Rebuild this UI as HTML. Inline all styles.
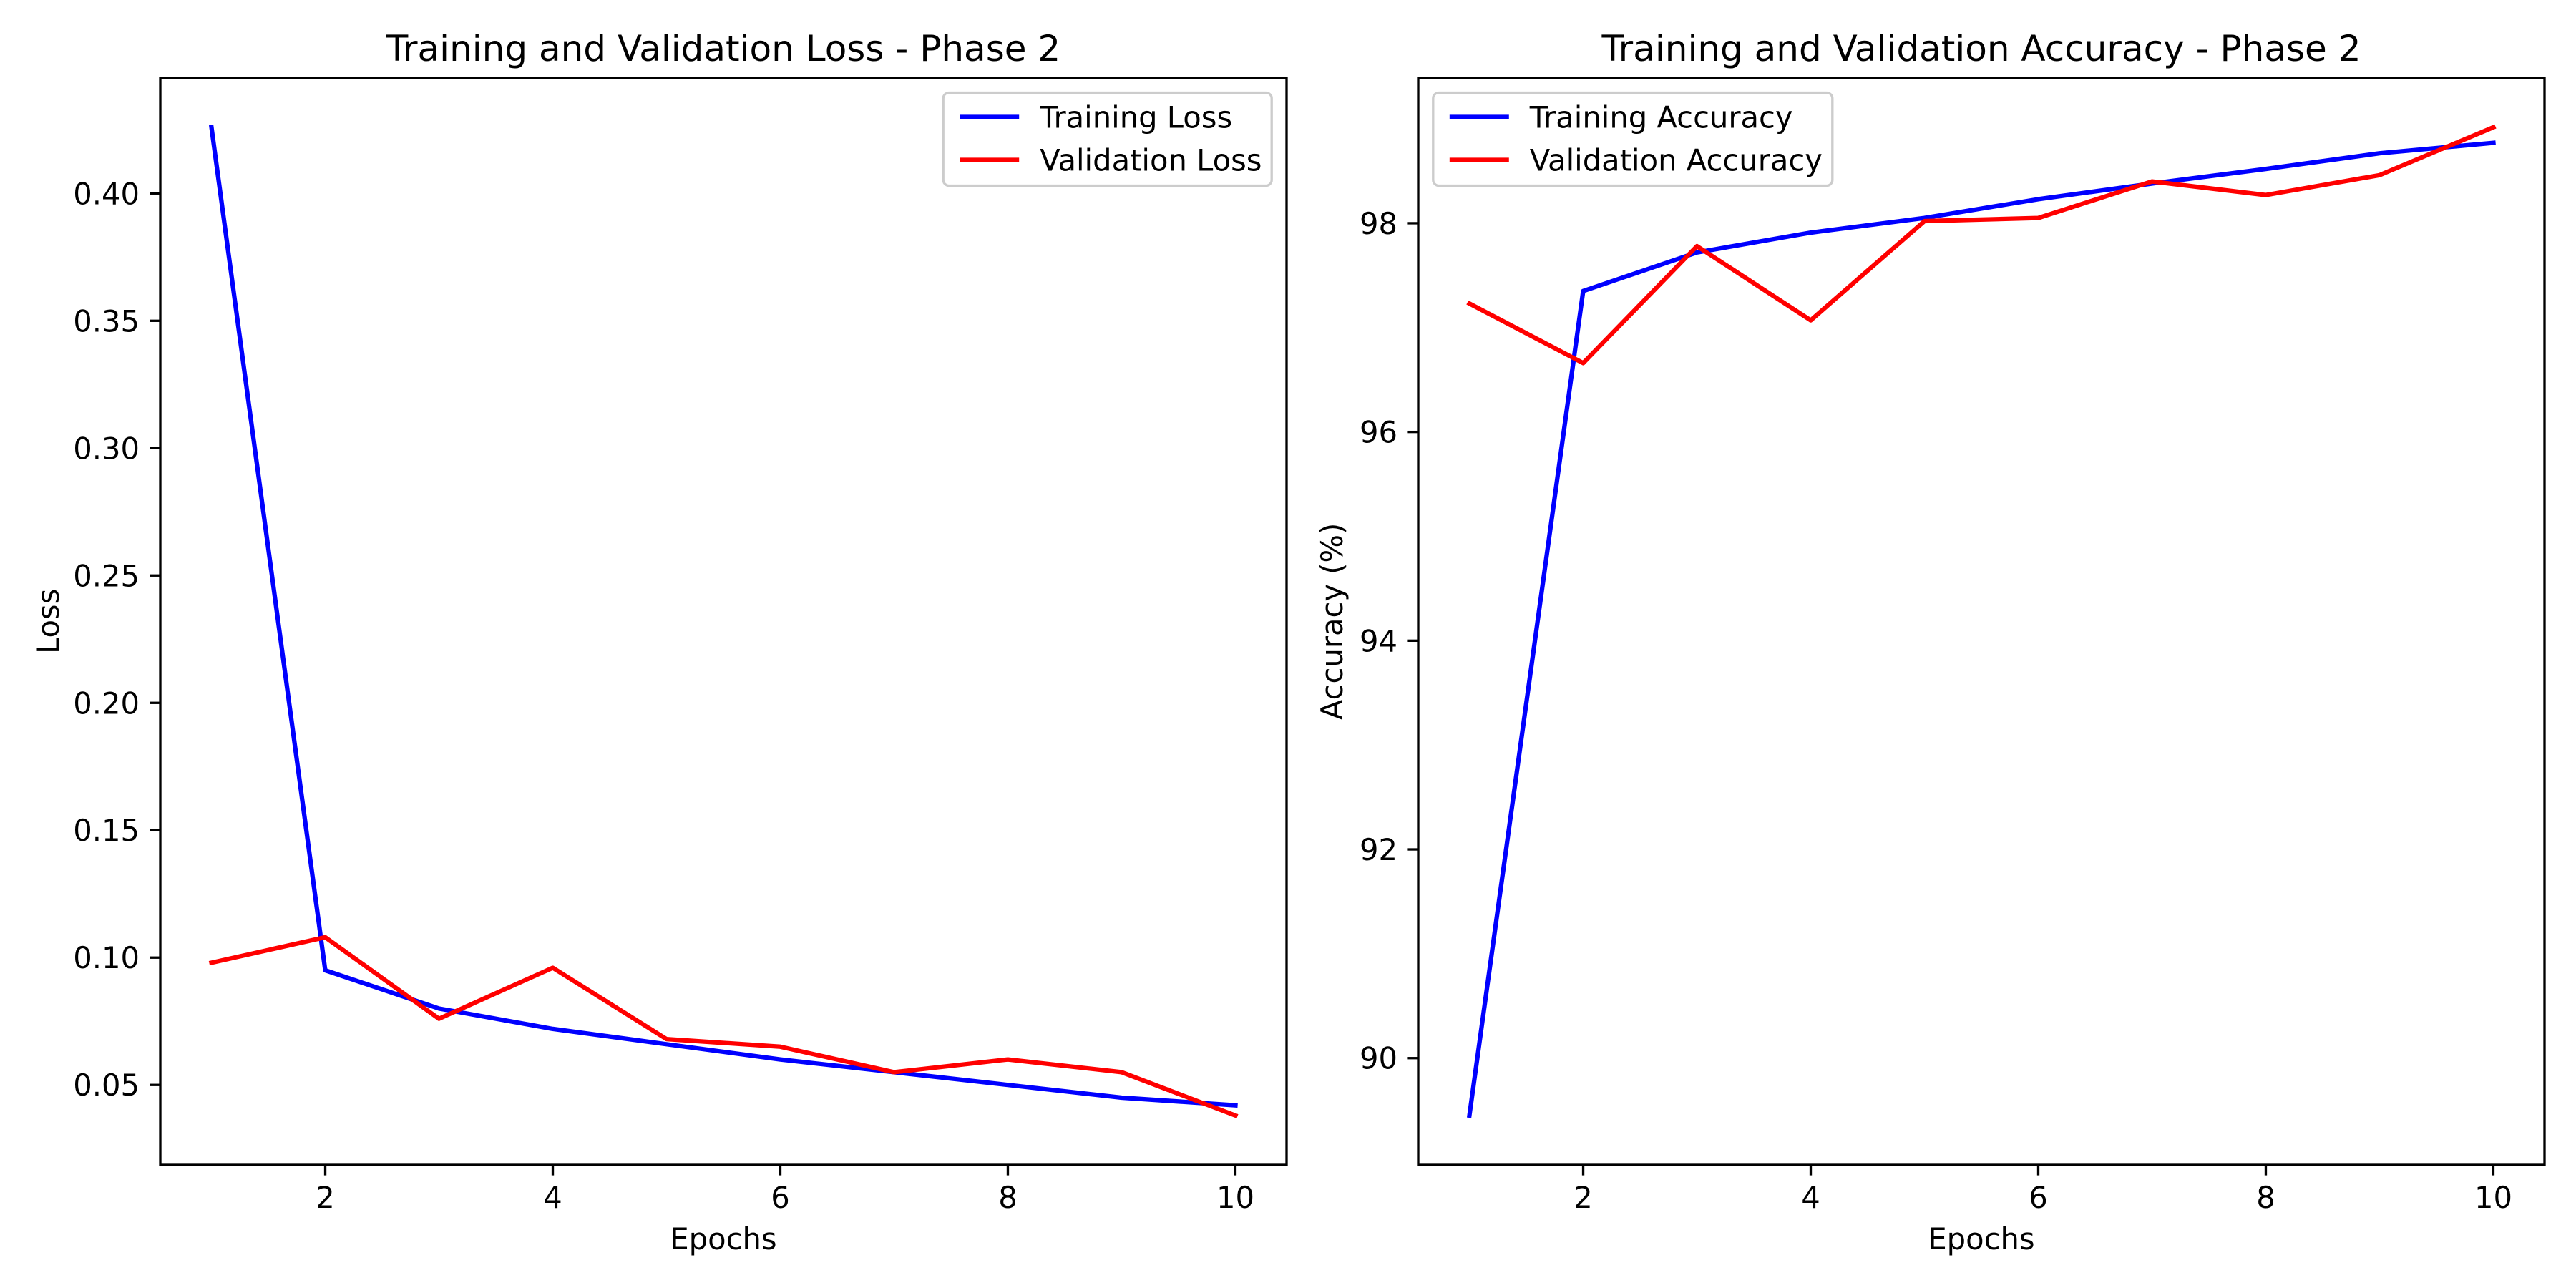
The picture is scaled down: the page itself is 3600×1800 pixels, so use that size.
<!DOCTYPE html>
<html><head><meta charset="utf-8"><style>
html,body{margin:0;padding:0;background:#fff;}
svg{display:block;font-family:"DejaVu Sans","Liberation Sans",sans-serif;}
</style></head><body>
<svg id="fig" width="3600" height="1800" viewBox="0 0 3600 1800" xmlns="http://www.w3.org/2000/svg"></svg>
<script>
const epochs = [1,2,3,4,5,6,7,8,9,10];
const trainLoss = [0.426,0.095,0.080,0.072,0.066,0.060,0.055,0.050,0.045,0.042];
const valLoss = [0.098,0.108,0.076,0.096,0.068,0.065,0.055,0.060,0.055,0.038];
const trainAcc = [89.45,97.35,97.72,97.91,98.05,98.23,98.38,98.52,98.67,98.77];
const valAcc = [97.23,96.66,97.78,97.07,98.02,98.05,98.40,98.27,98.46,98.92];
const xTicks = [2,4,6,8,10];
const lossTicks = [0.05,0.10,0.15,0.20,0.25,0.30,0.35,0.40];
const accTicks = [90,92,94,96,98];

const NS = "http://www.w3.org/2000/svg";
const svg = document.getElementById('fig');
function mk(tag, attrs, parent, text){
  const e = document.createElementNS(NS, tag);
  for (const k in attrs) e.setAttribute(k, attrs[k]);
  if (text !== undefined) e.textContent = text;
  (parent||svg).appendChild(e);
  return e;
}
const FS = 41.67;
function panel(opts){
  const {left, right, top, bottom, series, yTicks, yFmt, title, ylabel, legendPos, key} = opts;
  const g = mk('g', {});
  
  
  const xmin = Math.min(...epochs), xmax = Math.max(...epochs);
  const xm = (xmax - xmin) * 0.05;
  const x0 = xmin - xm, x1 = xmax + xm;
  let all = [];
  series.forEach(s => all = all.concat(s.values));
  const ymin0 = Math.min(...all), ymax0 = Math.max(...all);
  const ym = (ymax0 - ymin0) * 0.05;
  const y0 = ymin0 - ym, y1 = ymax0 + ym;
  const sx = v => left + (v - x0) / (x1 - x0) * (right - left);
  const sy = v => bottom - (v - y0) / (y1 - y0) * (bottom - top);
  // series
  series.forEach(s => {
    const pts = epochs.map((e,i) => sx(e).toFixed(1) + ',' + sy(s.values[i]).toFixed(1)).join(' ');
    const pl = mk('polyline', {points: pts, fill: 'none', stroke: s.color, 'stroke-width': 6.25, 'stroke-linejoin': 'round', 'stroke-linecap': 'square'}, g);
    
    
  });
  // axes frame
  const fr = mk('rect', {x: left, y: top, width: right - left, height: bottom - top, fill: 'none', stroke: '#000', 'stroke-width': 3.33}, g);
  
  
  // x ticks
  xTicks.forEach(t => {
    const x = sx(t);
    mk('line', {x1: x, x2: x, y1: bottom, y2: bottom + 14.6, stroke: '#000', 'stroke-width': 3.33}, g);
    const tl = mk('text', {x: x, y: bottom + 29 + 31, 'text-anchor': 'middle', 'font-size': FS, fill: '#000'}, g, String(t));
    
    
  });
  // y ticks
  yTicks.forEach(t => {
    const y = sy(t);
    mk('line', {x1: left - 14.6, x2: left, y1: y, y2: y, stroke: '#000', 'stroke-width': 3.33}, g);
    const tl = mk('text', {x: left - 29, y: y + 15, 'text-anchor': 'end', 'font-size': FS, fill: '#000'}, g, yFmt(t));
    
    
  });
  const cx = (left + right) / 2;
  const tt = mk('text', {x: cx, y: 85, 'text-anchor': 'middle', 'font-size': 50, fill: '#000'}, g, title);
  
  
  const xl = mk('text', {x: cx, y: 1746, 'text-anchor': 'middle', 'font-size': FS, fill: '#000'}, g, 'Epochs');
  
  
  const lx = opts.ylabelX, lyc = (top + bottom) / 2;
  const yl = mk('text', {x: lx, y: lyc, 'text-anchor': 'middle', 'font-size': FS, fill: '#000', transform: `rotate(-90 ${lx} ${lyc})`}, g, ylabel);
  
  
  // legend
  const lg = mk('g', {}, g);
  
  
  const lw = opts.legendW, lh = 130;
  const lxp = legendPos === 'right' ? right - 20.8 - lw : left + 20.8;
  const lyp = top + 20.8;
  mk('rect', {x: lxp, y: lyp, width: lw, height: lh, rx: 8, fill: 'rgba(255,255,255,0.8)', stroke: '#cccccc', 'stroke-width': 3.33}, lg);
  series.forEach((s, i) => {
    const yy = lyp + 34 + i * 60;
    const e = mk('g', {}, lg);
    
    
    mk('line', {x1: lxp + 23, x2: lxp + 106, y1: yy, y2: yy, stroke: s.color, 'stroke-width': 6.25}, e);
    mk('text', {x: lxp + 135, y: yy + 15, 'font-size': FS, fill: '#000'}, e, s.label);
  });
}
panel({key: 'loss', left: 224, right: 1798, top: 108.7, bottom: 1628, ylabelX: 82,
  series: [{name: 'training-loss-line', label: 'Training Loss', color: '#0000ff', values: trainLoss},
           {name: 'validation-loss-line', label: 'Validation Loss', color: '#ff0000', values: valLoss}],
  yTicks: lossTicks, yFmt: v => v.toFixed(2), title: 'Training and Validation Loss - Phase 2', ylabel: 'Loss',
  legendPos: 'right', legendW: 459});
panel({key: 'accuracy', left: 1982, right: 3556, top: 108.7, bottom: 1628, ylabelX: 1876,
  series: [{name: 'training-accuracy-line', label: 'Training Accuracy', color: '#0000ff', values: trainAcc},
           {name: 'validation-accuracy-line', label: 'Validation Accuracy', color: '#ff0000', values: valAcc}],
  yTicks: accTicks, yFmt: v => String(v), title: 'Training and Validation Accuracy - Phase 2', ylabel: 'Accuracy (%)',
  legendPos: 'left', legendW: 558});
</script>
</body></html>
